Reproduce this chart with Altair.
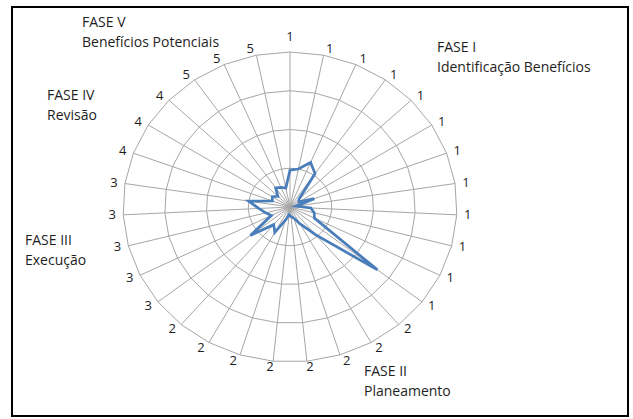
import altair as alt
import pandas as pd

# Spoke categories (phase number of each item), clockwise from the top
spoke_labels = ["1"] * 12 + ["2"] * 8 + ["3"] * 5 + ["4"] * 3 + ["5"] * 3
# Score of each item on the same spokes
scores = [0.95, 1.0, 1.25, 1.05, 0.3, 0.25, 0.62, 0.15, 0.5, 0.6, 0.65,
          2.65, 0.95, 0.5, 0.3, 0.25, 0.2, 0.35, 0.75, 0.6, 1.2, 0.5,
          0.6, 0.75, 1.0, 0.45, 0.5, 0.4, 0.6, 0.55, 0.5]
ring_levels = [1, 2, 3, 4]

phase_titles = ["FASE I", "FASE II", "FASE III", "FASE IV", "FASE V"]
phase_names = ["Identificação Benefícios", "Planeamento", "Execução",
               "Revisão", "Benefícios Potenciais"]

N = len(spoke_labels)
R_MAX = max(ring_levels)

# pixel size of one radial unit horizontally / vertically
UX, UY = 41.75, 38.75
W, H = 616, 409
CX, CY = 278, 200
x_scale = alt.Scale(domain=[-CX / UX, (W - CX) / UX], nice=False, zero=False)
y_scale = alt.Scale(domain=[-(H - CY) / UY, CY / UY], nice=False, zero=False)

FONT = "Open Sans"
GRID = "#a6a6a6"
LINE = "#4a7ebb"
TEXT = "#1e1e1e"

spokes = pd.DataFrame({"idx": list(range(N)), "label": spoke_labels, "score": scores})
rings = pd.DataFrame([{"idx": i, "level": lv} for lv in ring_levels for i in range(N)])

theta = f"2 * PI * datum.idx / {N}"

X = alt.X("px:Q", scale=x_scale, axis=None)
Y = alt.Y("py:Q", scale=y_scale, axis=None)

ring_layer = alt.Chart(rings).transform_calculate(
    t=theta
).transform_calculate(
    px="datum.level * sin(datum.t)", py="datum.level * cos(datum.t)"
).mark_line(interpolate="linear-closed", color=GRID, strokeWidth=1).encode(
    x=X, y=Y, detail="level:N", order="idx:Q"
)

spoke_layer = alt.Chart(spokes).transform_calculate(
    t=theta
).transform_calculate(
    px="0", py="0",
    ex=f"{R_MAX} * sin(datum.t)", ey=f"{R_MAX} * cos(datum.t)"
).mark_rule(color=GRID, strokeWidth=1).encode(
    x=X, y=Y, x2="ex:Q", y2="ey:Q"
)

score_layer = alt.Chart(spokes).transform_calculate(
    t=theta
).transform_calculate(
    px="datum.score * sin(datum.t)", py="datum.score * cos(datum.t)"
).mark_line(interpolate="linear-closed", color=LINE, strokeWidth=2.75,
            strokeJoin="miter").encode(
    x=X, y=Y, order="idx:Q"
)

# category labels just outside the outer ring
label_layer = alt.Chart(spokes).transform_calculate(
    t=theta
).transform_calculate(
    s="sin(datum.t)", c="cos(datum.t)"
).transform_calculate(
    ox="clamp(datum.s * 25, -5, 5) + 6 * datum.s",
    oy="6 * datum.c + (datum.c > 0 ? 1.9 * (5 - clamp(abs(datum.s) * 25, 0, 5)) : 0)"
).transform_calculate(
    px=f"{R_MAX} * datum.s + datum.ox / {UX}",
    py=f"{R_MAX} * datum.c + datum.oy / {UY}"
).mark_text(font=FONT, fontSize=13, color=TEXT, baseline="middle",
            align="center").encode(
    x=X, y=Y, text="label:N"
)

# phase captions placed around the chart
phase_pos = [(425, 45), (352, 369), (13, 238), (35, 93), (70, 20)]
phase_layers = []
for (title, name), (px, py) in zip(zip(phase_titles, phase_names), phase_pos):
    phase_layers.append(
        alt.Chart(pd.DataFrame({"t": [title + "\n" + name]})).mark_text(
            font=FONT, fontSize=14, color=TEXT, align="left",
            baseline="alphabetic", lineBreak="\n", lineHeight=20
        ).encode(x=alt.value(px), y=alt.value(py), text="t:N")
    )

chart = alt.layer(
    ring_layer, spoke_layer, score_layer, label_layer, *phase_layers
).properties(
    width=W, height=H,
    padding={"left": 12, "top": 7, "right": 5, "bottom": 3},
    autosize=alt.AutoSizeParams(type="none"),
    background="white",
).configure_view(stroke="black", strokeWidth=2)

chart.save("out.html", embed_options={"renderer": "svg", "actions": False})
